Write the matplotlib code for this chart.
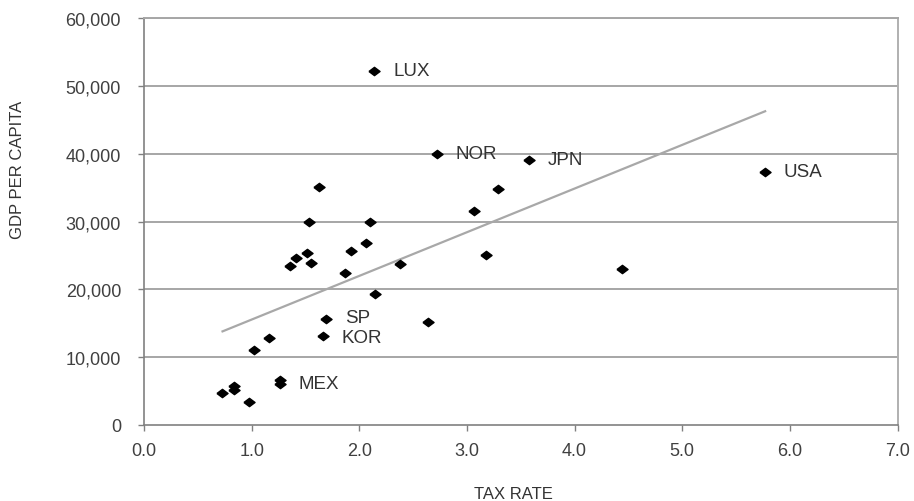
import matplotlib
matplotlib.use("Agg")
import matplotlib.pyplot as plt

# ---- data ----
labeled_names = ["LUX", "NOR", "JPN", "USA", "SP", "KOR", "MEX"]
labeled_tax = [2.14, 2.72, 3.58, 5.77, 1.69, 1.66, 1.26]
labeled_gdp = [52250, 40000, 39100, 37350, 15600, 13200, 6050]

other_tax = [1.26, 1.63, 3.29, 3.07, 1.53, 2.10, 2.06, 1.92, 1.51, 1.41, 1.55,
             1.36, 2.38, 3.18, 1.87, 2.15, 2.64, 1.16, 1.02, 0.84, 0.84, 0.72,
             0.98, 4.44]
other_gdp = [6700, 35100, 34800, 31600, 30000, 30000, 26900, 25700, 25400, 24700,
             23900, 23500, 23700, 25100, 22400, 19300, 15200, 12800, 11000, 5700,
             5200, 4700, 3350, 22950]

trend_x = [0.72, 5.78]
trend_y = [13750, 46350]

x_ticks = [0, 1, 2, 3, 4, 5, 6, 7]
x_tick_labels = ["0.0", "1.0", "2.0", "3.0", "4.0", "5.0", "6.0", "7.0"]
y_ticks = [0, 10000, 20000, 30000, 40000, 50000, 60000]
y_tick_labels = ["0", "10,000", "20,000", "30,000", "40,000", "50,000", "60,000"]

# ---- figure ----
plt.rcParams['font.family'] = ['Liberation Sans', 'DejaVu Sans']
W, H = 914, 502
fig = plt.figure(figsize=(W / 100, H / 100), dpi=100)
ax = fig.add_axes([144 / W, 1 - 426 / H, (897.5 - 144) / W, (426 - 19.3) / H])

ax.set_xlim(0, 7)
ax.set_ylim(0, 60000)

for y in y_ticks[1:]:
    ax.axhline(y, color="#a6a6a6", lw=1.4, zorder=1)

ax.plot(trend_x, trend_y, color="#a8a8a8", lw=1.6, zorder=2, solid_capstyle="butt")

diamond = [(-1, 0), (0, 0.75), (1, 0), (0, -0.75), (-1, 0)]
all_x = labeled_tax + other_tax
all_y = labeled_gdp + other_gdp
ax.plot(all_x, all_y, linestyle="none", marker=diamond, markersize=8,
        color="black", zorder=3)

# small vertical nudges (points) so SP / KOR labels don't collide
nudges = {"SP": 1.5, "KOR": -1.5}
for name, x, y in zip(labeled_names, labeled_tax, labeled_gdp):
    ax.annotate(name, (x, y), xytext=(13.5, nudges.get(name, 0)),
                textcoords="offset points", ha="left", va="center",
                fontsize=13.5, color="#333333")

ax.set_xticks(x_ticks)
ax.set_xticklabels(x_tick_labels)
ax.set_yticks(y_ticks)
ax.set_yticklabels(y_tick_labels)
ax.tick_params(axis="both", direction="out", length=4.5, width=1,
               color="#808080", labelsize=13, labelcolor="#404040")
ax.tick_params(axis="x", pad=8)
ax.tick_params(axis="y", pad=12)

for side in ["left", "bottom"]:
    ax.spines[side].set_color("#808080")
    ax.spines[side].set_linewidth(1.2)
ax.spines["right"].set_color("#b0b0b0")
ax.spines["right"].set_linewidth(1.4)
ax.spines["top"].set_color("#a6a6a6")
ax.spines["top"].set_linewidth(1.4)

fig.text(513 / W, 1 - 499 / H, "TAX RATE", ha="center", va="baseline",
         fontsize=12, color="#333333")
fig.text(18 / W, 1 - 170 / H, "GDP PER CAPITA", ha="center", va="center",
         rotation=90, fontsize=12, color="#333333")

fig.savefig("out.png", dpi=100, facecolor="white")
